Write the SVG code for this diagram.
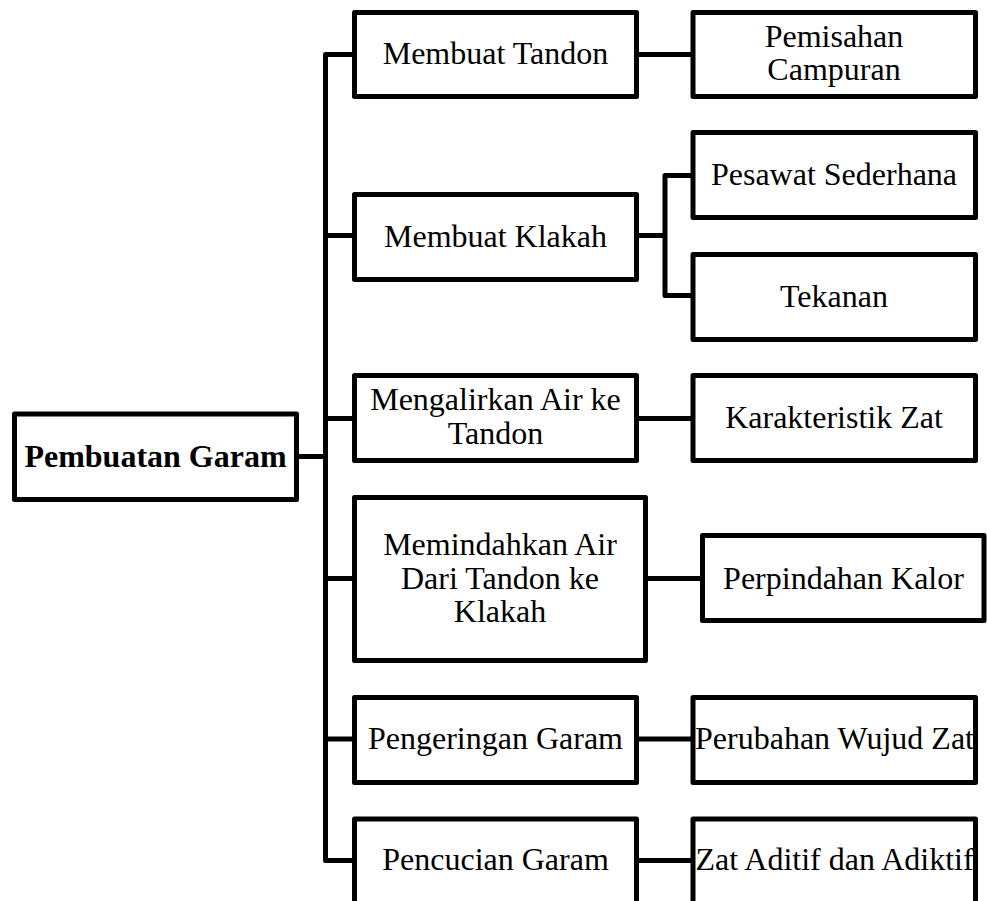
<svg xmlns="http://www.w3.org/2000/svg" width="987" height="901" viewBox="0 0 987 901">
<style>
.box{fill:#fff;stroke:#000;stroke-width:5;stroke-linejoin:round}
.ln{fill:none;stroke:#000;stroke-width:5;stroke-linejoin:round}
text{font-family:"Liberation Serif","Times New Roman",serif;font-size:32px;fill:#000;text-anchor:middle}
.b{font-weight:bold}
</style>
<rect width="987" height="901" fill="#fff"/>
<g id="connectors">
<path class="ln" d="M354.5,54.5 H325.5 V860.5 H354.5"/>
<path class="ln" d="M325.5,235.5 H354.5 M325.5,418.5 H354.5 M325.5,578.5 H354.5 M325.5,739 H354.5"/>
<path class="ln" d="M296.5,456.5 H325.5"/>
<path class="ln" d="M636.5,54.5 H693"/>
<path class="ln" d="M636.5,235.5 H665 M693,175.5 H665 V295.5 H693"/>
<path class="ln" d="M636.5,418.5 H693"/>
<path class="ln" d="M645.5,578.5 H702.5"/>
<path class="ln" d="M636.5,739 H693"/>
<path class="ln" d="M636.5,860.5 H693"/>
</g>
<g id="root"><rect class="box" x="14.5" y="414" width="282" height="85.5"/><text class="b" x="155.5" y="466.5">Pembuatan Garam</text></g>
<g id="membuat-tandon"><rect class="box" x="354.5" y="12.5" width="282" height="84"/><text x="495.5" y="64">Membuat Tandon</text></g>
<g id="pemisahan"><rect class="box" x="693" y="12.5" width="282.5" height="84"/><text x="834" y="46.5">Pemisahan</text><text x="834" y="80">Campuran</text></g>
<g id="membuat-klakah"><rect class="box" x="354.5" y="194.5" width="282" height="85"/><text x="495.5" y="246.5">Membuat Klakah</text></g>
<g id="pesawat"><rect class="box" x="693" y="132.5" width="282.5" height="85"/><text x="834" y="185">Pesawat Sederhana</text></g>
<g id="tekanan"><rect class="box" x="693" y="254.5" width="282.5" height="85"/><text x="834" y="306.5">Tekanan</text></g>
<g id="mengalirkan"><rect class="box" x="354.5" y="375.5" width="282" height="85"/><text x="495.5" y="410">Mengalirkan Air ke</text><text x="495.5" y="444">Tandon</text></g>
<g id="karakteristik"><rect class="box" x="693" y="375.5" width="282.5" height="85"/><text x="834" y="427.5">Karakteristik Zat</text></g>
<g id="memindahkan"><rect class="box" x="354.5" y="497.5" width="291" height="163"/><text x="500" y="555">Memindahkan Air</text><text x="500" y="588.5">Dari Tandon ke</text><text x="500" y="621.5">Klakah</text></g>
<g id="perpindahan"><rect class="box" x="702.5" y="535.5" width="281.5" height="85"/><text x="843.5" y="588.5">Perpindahan Kalor</text></g>
<g id="pengeringan"><rect class="box" x="354.5" y="697.5" width="282" height="85"/><text x="495.5" y="748.5">Pengeringan Garam</text></g>
<g id="perubahan"><rect class="box" x="693" y="697.5" width="282.5" height="85"/><text x="834.5" y="748.5">Perubahan Wujud Zat</text></g>
<g id="pencucian"><rect class="box" x="354.5" y="819" width="282" height="90"/><text x="495.5" y="870">Pencucian Garam</text></g>
<g id="zat-aditif"><rect class="box" x="693" y="819" width="282.5" height="90"/><text x="834.5" y="870">Zat Aditif dan Adiktif</text></g>
</svg>
